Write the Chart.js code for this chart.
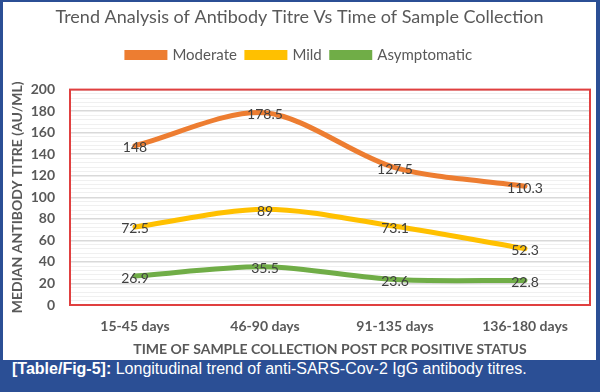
<!DOCTYPE html>
<html>
<head>
<meta charset="utf-8">
<script src="https://cdn.jsdelivr.net/npm/chart.js@4.4.1/dist/chart.umd.min.js"></script>
<style>
body { margin: 0; background: #fff; }
#fig { position: relative; width: 600px; height: 392px; overflow: hidden; background: #fff; }
#grafico { position: absolute; left: 0; top: 0; }
#marco { position: absolute; left: 0; top: 0; width: 600px; height: 392px; box-sizing: border-box;
  border: solid #2b4f95; border-width: 2px 4px 0 3px; pointer-events: none; }
#leyenda { position: absolute; left: 0; top: 360px; width: 600px; height: 32px; box-sizing: border-box;
  padding-left: 12px; background: #2b4f95; color: #fff; line-height: 32px;
  font: 16px "Liberation Sans", Arial, sans-serif; white-space: nowrap; }
#leyenda b { font-weight: bold; }
</style>
</head>
<body>
<div id="fig">
  <canvas id="grafico" width="600" height="360"></canvas>
  <div id="marco"></div>
  <div id="leyenda"><b>[Table/Fig-5]:</b> Longitudinal trend of anti-SARS-Cov-2 IgG antibody titres.</div>
</div>
<script>
// datos
const periodos = ['15-45 days', '46-90 days', '91-135 days', '136-180 days'];
const moderado = [148, 178.5, 127.5, 110.3];
const leve = [72.5, 89, 73.1, 52.3];
const asintomatico = [26.9, 35.5, 23.6, 22.8];

const gris = '#595959';
const fuente = 'Lato';

// valores encima de cada punto
const etiquetasValores = {
    id: 'etiquetasValores',
    afterDatasetsDraw(chart) {
        const ctx = chart.ctx;
        ctx.save();
        ctx.font = '14px ' + fuente;
        ctx.fillStyle = '#404040';
        ctx.textAlign = 'center';
        ctx.textBaseline = 'middle';
        chart.data.datasets.forEach((ds, i) => {
            chart.getDatasetMeta(i).data.forEach((pt, j) => {
                ctx.fillText(ds.data[j], pt.x, pt.y + 2);
            });
        });
        ctx.restore();
    }
};

// marco rojo del area de trazado
const marcoRojo = {
    id: 'marcoRojo',
    beforeDatasetsDraw(chart) {
        const a = chart.chartArea;
        const ctx = chart.ctx;
        ctx.save();
        ctx.strokeStyle = '#e04040';
        ctx.lineWidth = 2;
        ctx.strokeRect(a.left, a.top, a.right - a.left, a.bottom - a.top);
        ctx.restore();
    }
};

function serie(nombre, datos, color) {
    return {
        label: nombre,
        data: datos,
        xAxisID: 'x',
        yAxisID: 'y',
        borderColor: color,
        backgroundColor: color,
        borderWidth: 5,
        borderCapStyle: 'round',
        tension: 0.3,
        pointRadius: 0,
        fill: false
    };
}

let grafico = new Chart(document.getElementById('grafico').getContext('2d'), {
    type: 'line',
    data: {
        labels: periodos,
        datasets: [
            serie('Moderate', moderado, '#ED7D31'),
            serie('Mild', leve, '#FFC000'),
            serie('Asymptomatic', asintomatico, '#70AD47')
        ]
    },
    options: {
        responsive: false,
        animation: false,
        layout: { padding: { left: 9, right: 10, top: 0, bottom: 2 } },
        plugins: {
            title: {
                display: true,
                text: 'Trend Analysis of Antibody Titre Vs Time of Sample Collection',
                color: gris,
                font: { family: fuente, size: 18, weight: 'normal' },
                padding: { top: 6, bottom: 10 }
            },
            legend: {
                labels: {
                    boxWidth: 38,
                    boxHeight: 5,
                    color: gris,
                    padding: 10,
                    font: { family: fuente, size: 15 }
                }
            },
            tooltip: { enabled: false }
        },
        scales: {
            x: {
                offset: true,
                grid: { display: false, drawTicks: false },
                border: { display: false },
                ticks: { color: gris, padding: 12.6, font: { family: fuente, size: 14, weight: 'bold' } },
                title: {
                    display: true,
                    text: 'TIME OF SAMPLE COLLECTION POST PCR POSITIVE STATUS',
                    color: gris,
                    font: { family: fuente, size: 14, weight: 'bold' },
                    padding: { top: 0, bottom: 0 }
                },
                afterFit: (eje) => { eje.height = 53; }
            },
            // eje vacio arriba, solo para dejar aire bajo la leyenda
            arriba: {
                type: 'category',
                position: 'top',
                grid: { display: false, drawTicks: false },
                border: { display: false },
                ticks: { display: false },
                afterFit: (eje) => { eje.height = 17; }
            },
            y: {
                min: 0,
                max: 200,
                border: { display: false },
                grid: {
                    drawTicks: false,
                    color: (c) => c.tick && c.tick.value % 20 === 0 ? '#d9d9d9' : '#f0f0f0',
                    lineWidth: (c) => c.tick && c.tick.value % 20 === 0 ? 1.5 : 1
                },
                ticks: {
                    stepSize: 4,
                    autoSkip: false,
                    padding: 15,
                    color: gris,
                    font: { family: fuente, size: 14, weight: 'bold' },
                    callback: (v) => v % 20 === 0 ? v : ''
                },
                title: {
                    display: true,
                    text: 'MEDIAN ANTIBODY TITRE (AU/ML)',
                    color: gris,
                    font: { family: fuente, size: 14, weight: 'bold' },
                    padding: { top: 0, bottom: 0 }
                },
                afterFit: (eje) => { eje.width = 61; }
            }
        }
    },
    plugins: [marcoRojo, etiquetasValores]
});
</script>
</body>
</html>
